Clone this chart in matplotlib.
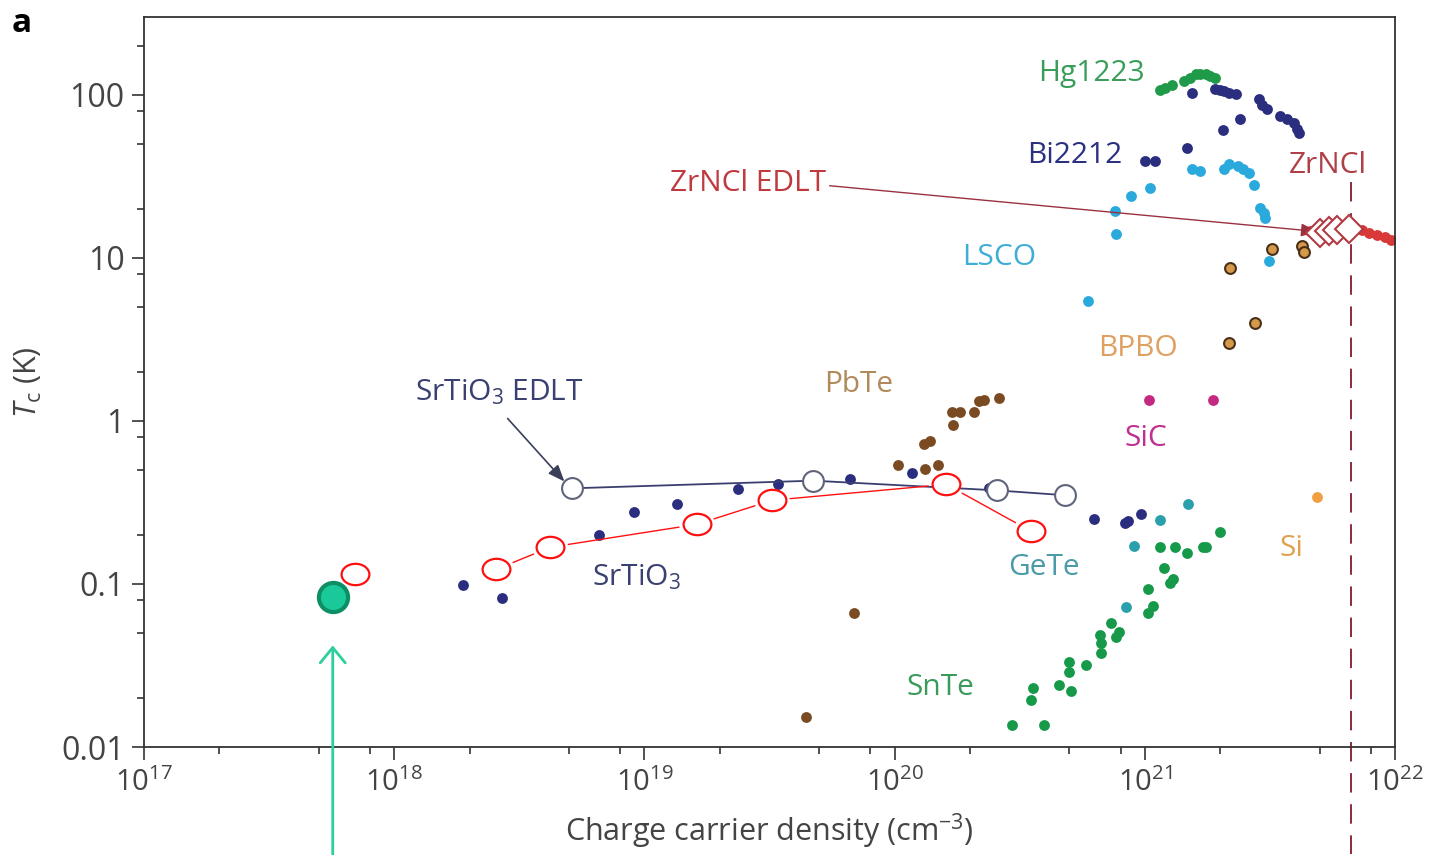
import matplotlib
matplotlib.use('Agg')
import matplotlib.pyplot as plt
import numpy as np
from matplotlib.path import Path
from matplotlib.transforms import Affine2D

plt.rcParams['font.family'] = 'Open Sans'
plt.rcParams['mathtext.fontset'] = 'custom'
plt.rcParams['mathtext.rm'] = 'Open Sans'
plt.rcParams['mathtext.it'] = 'Open Sans:italic'

# carrier density (cm^-3) and Tc (K)
hg1223_n = [1.15e21, 1.21e21, 1.29e21, 1.44e21, 1.52e21, 1.60e21, 1.67e21, 1.75e21, 1.83e21, 1.90e21]
hg1223_tc = [107, 110, 115, 122, 127, 134, 134, 134, 131, 127]

bi2212_n = [1.55e21, 1.90e21, 1.99e21, 2.08e21, 2.18e21, 2.31e21, 2.87e21, 2.95e21, 3.09e21, 3.48e21,
            3.71e21, 3.96e21, 4.07e21, 4.15e21, 2.41e21, 2.05e21, 1.48e21, 1.0e21, 1.10e21]
bi2212_tc = [103, 109, 107, 106, 103, 101, 94, 86, 82, 74, 71, 67, 62, 58, 71, 61, 47, 39, 39]

lsco_n = [5.93e20, 7.59e20, 7.66e20, 8.79e20, 1.05e21, 1.55e21, 1.66e21, 2.08e21, 2.18e21, 2.35e21,
          2.46e21, 2.62e21, 2.74e21, 2.90e21, 3.01e21, 3.03e21, 3.15e21]
lsco_tc = [5.47, 19.5, 14.1, 24.0, 26.9, 35.2, 34.2, 35.2, 37.8, 36.7, 35.2, 33.3, 27.8, 20.3, 18.9, 17.6, 9.6]

zrncl_n = [4.58e21, 4.89e21, 7.39e21, 7.88e21, 8.47e21, 9.12e21, 9.64e21]
zrncl_tc = [14.7, 15.3, 14.9, 14.3, 13.9, 13.5, 12.8]

zrncl_edlt_n = [5.02e21, 5.46e21, 5.87e21, 6.56e21]
zrncl_edlt_tc = [14.3, 14.7, 14.9, 15.1]
zrncl_opt_n = 6.68e21

bpbo_n = [2.20e21, 3.24e21, 4.26e21, 4.34e21, 2.77e21, 2.18e21]
bpbo_tc = [8.7, 11.4, 11.9, 10.8, 4.0, 3.0]

sic_n = [1.04e21, 1.88e21]
sic_tc = [1.35, 1.35]

si_n = [4.89e21]
si_tc = [0.34]

pbte_n = [1.03e20, 1.32e20, 1.49e20, 1.31e20, 1.38e20, 1.72e20, 1.69e20, 1.82e20, 2.07e20, 2.17e20,
          2.27e20, 2.61e20, 6.87e19, 4.43e19]
pbte_tc = [0.54, 0.51, 0.54, 0.72, 0.75, 0.94, 1.14, 1.14, 1.13, 1.32, 1.34, 1.39, 0.066, 0.0153]

sto_n = [1.88e18, 2.69e18, 6.61e18, 9.11e18, 1.35e19, 2.37e19, 3.42e19, 6.62e19, 1.17e20, 2.38e20,
         6.24e20, 8.37e20, 8.61e20, 9.69e20]
sto_tc = [0.098, 0.082, 0.20, 0.275, 0.31, 0.38, 0.41, 0.44, 0.48, 0.39, 0.25, 0.235, 0.245, 0.27]

sto_edlt_n = [5.15e18, 4.72e19, 2.56e20, 4.82e20]
sto_edlt_tc = [0.386, 0.43, 0.375, 0.35]

gete_n = [1.49e21, 1.15e21, 9.08e20, 8.45e20]
gete_tc = [0.31, 0.246, 0.17, 0.072]

snte_n = [1.99e21, 1.71e21, 1.76e21, 1.47e21, 1.32e21, 1.15e21, 1.19e21, 1.30e21, 1.26e21, 1.03e21,
          1.08e21, 1.03e21, 7.92e20, 7.36e20, 7.64e20, 6.65e20, 6.71e20, 6.71e20, 5.80e20, 4.96e20,
          4.96e20, 4.56e20, 5.09e20, 3.59e20, 3.50e20, 2.94e20, 3.97e20]
snte_tc = [0.207, 0.168, 0.168, 0.154, 0.168, 0.168, 0.125, 0.108, 0.101, 0.093,
           0.073, 0.066, 0.051, 0.0575, 0.047, 0.0485, 0.0434, 0.0377, 0.0318, 0.0332,
           0.0288, 0.024, 0.022, 0.023, 0.0194, 0.0136, 0.0136]

# red open ellipses overlaid on the figure
red_n = [6.95e17, 2.56e18, 4.21e18, 1.62e19, 3.24e19, 1.61e20, 3.52e20]
red_tc = [0.115, 0.123, 0.168, 0.232, 0.326, 0.408, 0.21]

# highlighted green sample
new_n = [5.68e17]
new_tc = [0.083]

xticks = [1e17, 1e18, 1e19, 1e20, 1e21, 1e22]
xticklabels = ['$10^{17}$', '$10^{18}$', '$10^{19}$', '$10^{20}$', '$10^{21}$', '$10^{22}$']
yticks = [0.01, 0.1, 1, 10, 100]
yticklabels = ['0.01', '0.1', '1', '10', '100']


fig = plt.figure(figsize=(14.43, 8.55), dpi=100)
ax = fig.add_axes([0.0998, 0.1263, 0.8669, 0.8538])
ax.set_xscale('log')
ax.set_yscale('log')
ax.set_xlim(1e17, 1e22)
ax.set_ylim(0.01, 300)

dot = dict(linestyle='None', marker='o', ms=7.8, mew=0)

ax.plot(zrncl_opt_n * np.ones(2), [29, 0.0022], color='#8e2a3c', lw=1.4,
        linestyle=(0, (10, 6)), clip_on=False, zorder=1)

ax.plot(hg1223_n, hg1223_tc, color='#1f9a48', **dot)
ax.plot(bi2212_n, bi2212_tc, color='#2b2d7e', **dot)
ax.plot(lsco_n, lsco_tc, color='#2aa9dc', **dot)
ax.plot(zrncl_n, zrncl_tc, color='#d83838', **dot)
ax.plot(zrncl_edlt_n, zrncl_edlt_tc, linestyle='None', marker='D', ms=14,
        mfc='white', mec='#b23a44', mew=1.5, zorder=4)
ax.plot(bpbo_n, bpbo_tc, linestyle='None', marker='o', ms=7.8,
        mfc='#d49a4a', mec='#4a3018', mew=1.5)
ax.plot(sic_n, sic_tc, color='#c42a84', **dot)
ax.plot(si_n, si_tc, color='#f0a040', **dot)
ax.plot(pbte_n, pbte_tc, color='#7a4a22', **dot)
ax.plot(sto_n, sto_tc, color='#2b2d7e', **dot)
ax.plot(gete_n, gete_tc, color='#2aa0ac', **dot)
ax.plot(snte_n, snte_tc, color='#17994a', **dot)

ax.plot(sto_edlt_n, sto_edlt_tc, color='#3a3f70', lw=1.3, marker='o', ms=15,
        mfc='white', mec='#60647a', mew=1.5, zorder=3)

# red ellipses, joined by short segments that stop before each ellipse
ell = Path.unit_circle().transformed(Affine2D().scale(1.3, 1.0))
for i in range(1, len(red_n) - 1):
    ax.annotate('', xy=(red_n[i + 1], red_tc[i + 1]), xytext=(red_n[i], red_tc[i]),
                arrowprops=dict(arrowstyle='-', color='#ff1010', lw=1.0,
                                shrinkA=13, shrinkB=13), zorder=4)
ax.plot(red_n, red_tc, linestyle='None', marker=ell, ms=20, mfc='white',
        mec='#ff1010', mew=1.6, zorder=5)

ax.plot(new_n, new_tc, linestyle='None', marker='o', ms=21, mfc='#19c99a',
        mec='#0e8f63', mew=3, zorder=6)
ax.annotate('', xy=(new_n[0], 0.042), xytext=(new_n[0], 0.0022),
            annotation_clip=False,
            arrowprops=dict(arrowstyle='->,head_length=0.55,head_width=0.45',
                            color='#2dcf9c', lw=2, mutation_scale=20,
                            shrinkA=0, shrinkB=0))

ax.annotate('', xy=(4.9e21, 14.5), xytext=(5.5e19, 27.7),
            arrowprops=dict(arrowstyle='-|>,head_length=0.5,head_width=0.2',
                            color='#9a3040', lw=1, mutation_scale=20,
                            shrinkA=0, shrinkB=0))
ax.annotate('', xy=(4.79e18, 0.425), xytext=(2.84e18, 1.035),
            arrowprops=dict(arrowstyle='-|>,head_length=0.5,head_width=0.2',
                            color='#3a3f5a', lw=1.2, mutation_scale=20,
                            shrinkA=0, shrinkB=0))

lab = dict(fontsize=21.5, ha='center', va='center')
ax.text(6.12e20, 135, 'Hg1223', color='#3a9e5a', **lab)
ax.text(5.24e20, 42.3, 'Bi2212', color='#2b3080', **lab)
ax.text(5.41e21, 36.7, 'ZrNCl', color='#b04048', **lab)
ax.text(2.6e19, 28.5, 'ZrNCl EDLT', color='#c0393e', **lab)
ax.text(2.61e20, 10.0, 'LSCO', color='#3eaed6', **lab)
ax.text(9.42e20, 2.78, 'BPBO', color='#e0a060', **lab)
ax.text(7.2e19, 1.67, 'PbTe', color='#b08a5a', **lab)
ax.text(1.01e21, 0.78, 'SiC', color='#c03090', **lab)
ax.text(2.64e18, 1.50, 'SrTiO$_3$ EDLT', color='#3a4070', **lab)
ax.text(9.27e18, 0.11, 'SrTiO$_3$', color='#3a4070', **lab)
ax.text(3.94e20, 0.127, 'GeTe', color='#4a9aa8', **lab)
ax.text(3.85e21, 0.166, 'Si', color='#e0a050', **lab)
ax.text(1.53e20, 0.0233, 'SnTe', color='#3a9a5a', **lab)

ax.set_xticks(xticks)
ax.set_xticklabels(xticklabels)
ax.set_yticks(yticks)
ax.set_yticklabels(yticklabels)
minor = [m * 10.0 ** e for e in range(-3, 23) for m in (2, 5, 8)]
ax.set_xticks([v for v in minor if 1e17 < v < 1e22], minor=True)
ax.set_yticks([v for v in minor if 0.01 < v < 300], minor=True)
ax.xaxis.set_minor_formatter(plt.NullFormatter())
ax.yaxis.set_minor_formatter(plt.NullFormatter())
ax.tick_params(which='major', direction='out', length=9, width=1.2,
               colors='#333333', labelcolor='#444444')
ax.tick_params(axis='y', which='major', labelsize=23, pad=5)
ax.tick_params(axis='x', which='major', labelsize=21, pad=6)
ax.tick_params(which='minor', direction='out', length=5, width=1.2, colors='#333333')
for s in ax.spines.values():
    s.set_linewidth(1.3)
    s.set_color('#333333')

ax.set_xlabel('Charge carrier density (cm$^{-3}$)', fontsize=22, color='#444444', labelpad=10)
ax.set_ylabel('$T_{\\mathrm{c}}$ (K)', fontsize=22, color='#444444', labelpad=12)

fig.text(0.008, 0.992, 'a', fontsize=24, weight='bold', va='top', ha='left')

plt.savefig('out.png', dpi=100)
